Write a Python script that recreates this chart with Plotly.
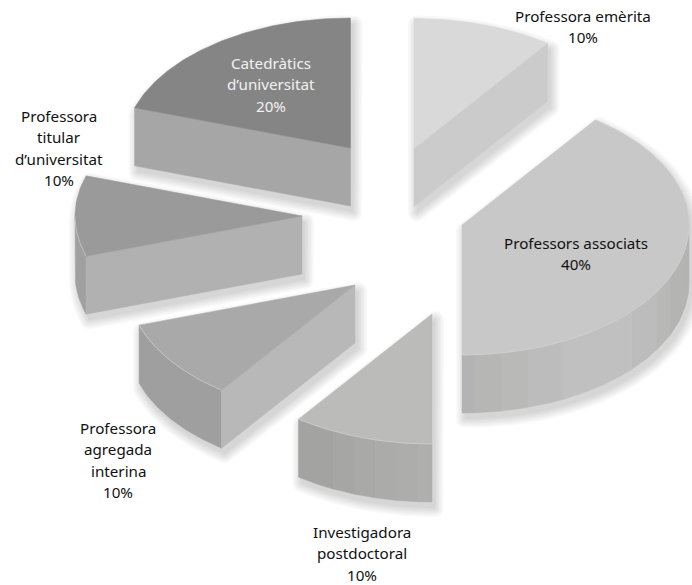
import math
import plotly.graph_objects as go

# ---- data ----
labels = ["Professora emèrita", "Professors associats", "Investigadora postdoctoral",
          "Professora agregada interina", "Professora titular d’universitat", "Catedràtics d’universitat"]
values = [10, 40, 10, 10, 10, 20]
label_lines = [
    ["Professora emèrita", "10%"],
    ["Professors associats", "40%"],
    ["Investigadora", "postdoctoral", "10%"],
    ["Professora", "agregada", "interina", "10%"],
    ["Professora", "titular", "d’universitat", "10%"],
    ["Catedràtics", "d’universitat", "20%"],
]

# ---- layout and style (exploded positions in the pixel-scaled axes) ----
W, H = 692, 585
RX, RY, DEPTH = 227, 130, 58
apex_x = [414, 462, 432, 355, 302, 350.5]
apex_y = [148.5, 225, 314, 285, 216, 148]
top_colors = ["#d9d9d9", "#c8c8c8", "#bbbbb9", "#a9a9a9", "#9a9a9a", "#858585"]
wall_colors = ["#cbcbcb", None, None, "#b8b8b8", "#b1b1b1", "#a6a6a6"]
wall_edge = ["end", None, None, "start", "start", "start"]
# rim bands: (from angle, to angle, colour) in degrees clockwise from 12 o'clock
rim_bands = [
    [],
    [(90, 95, "#b0b0af"), (95, 113.6, "#b4b4b3"), (113.6, 120.8, "#b8b8b7"), (120.8, 131.6, "#bcbcbc"),
     (131.6, 153.6, "#c0c0c0"), (153.6, 163.4, "#bcbcbc"), (163.4, 170, "#b9b9b8"),
     (170, 177, "#b6b6b5"), (177, 180, "#b3b3b3")],
    [(180, 183.5, "#afafae"), (183.5, 188.9, "#adadac"), (188.9, 194.5, "#ababaa"),
     (194.5, 199.8, "#a9a9a8"), (199.8, 205.8, "#a6a6a5"), (205.8, 216, "#a3a3a2")],
    [(216, 252, "#9f9f9f")],
    [(252, 270, "#a0a0a0")],
    [],
]
label_cx = [583, 576, 362, 118, 59, 270.5]
label_y = [16, 243, 532, 428, 116, 63]
LINE_STEP = 21.3
FONT = "Noto Sans"
FONT_SIZE = 15.2
label_colors = ["#111111"] * 5 + ["#f2f2f2"]
SHADOW_DX, SHADOW_DY = 3, 6
SHADOW_STEPS = [0, 1.5, 3, 4.5, 6, 7.5, 9]


def pt(cx, cy, deg, dz=0):
    a = math.radians(deg)
    return cx + RX * math.sin(a), cy - RY * math.cos(a) + dz


def arc(cx, cy, a0, a1, dz=0, step=1.0):
    n = max(2, int(abs(a1 - a0) / step) + 1)
    return [pt(cx, cy, a0 + (a1 - a0) * i / (n - 1), dz) for i in range(n)]


def hull(points):
    p = sorted(set(points))
    def half(seq):
        out = []
        for q in seq:
            while len(out) >= 2 and (out[-1][0] - out[-2][0]) * (q[1] - out[-2][1]) - (out[-1][1] - out[-2][1]) * (q[0] - out[-2][0]) <= 0:
                out.pop()
            out.append(q)
        return out[:-1]
    return half(p) + half(p[::-1])


def grow(points, d):
    if d == 0:
        return hull(points)
    ring = [(d * math.cos(k * math.pi / 8), d * math.sin(k * math.pi / 8)) for k in range(16)]
    return hull([(x + u, y + v) for x, y in points for u, v in ring])


fig = go.Figure()


def poly(points, fill, line=None, width=0.5):
    xs = [q[0] for q in points] + [points[0][0]]
    ys = [q[1] for q in points] + [points[0][1]]
    fig.add_trace(go.Scatter(x=xs, y=ys, mode="lines", fill="toself", fillcolor=fill,
                             line=dict(color=line or fill, width=width),
                             hoverinfo="skip", showlegend=False))


# cumulative angles from the shares
total = sum(values)
starts, ends, acc = [], [], 0
for v in values:
    starts.append(acc / total * 360)
    acc += v
    ends.append(acc / total * 360)

# soft drop shadows
for i in range(len(values)):
    cx, cy = apex_x[i], apex_y[i]
    a0, a1 = starts[i], ends[i]
    sil = [(cx, cy), (cx, cy + DEPTH)] + arc(cx, cy, a0, a1, step=3) + arc(cx, cy, a0, a1, DEPTH, step=3)
    sil = [(x + SHADOW_DX, y + SHADOW_DY) for x, y in hull(sil)]
    for d in SHADOW_STEPS:
        poly(grow(sil, d), "rgba(50,50,50,0.03)", "rgba(0,0,0,0)", 0)

# slices
for i in range(len(values)):
    cx, cy = apex_x[i], apex_y[i]
    a0, a1 = starts[i], ends[i]
    for b0, b1, col in rim_bands[i]:
        poly(arc(cx, cy, b0, b1) + arc(cx, cy, b1, b0, DEPTH), col)
    if wall_colors[i]:
        e = a0 if wall_edge[i] == "start" else a1
        p = pt(cx, cy, e)
        poly([(cx, cy), p, (p[0], p[1] + DEPTH), (cx, cy + DEPTH)], wall_colors[i])
    poly([(cx, cy)] + arc(cx, cy, a0, a1), top_colors[i])
    if rim_bands[i]:
        r0, r1 = rim_bands[i][0][0], rim_bands[i][-1][1]
        e = arc(cx, cy, r0, r1)
        fig.add_trace(go.Scatter(x=[q[0] for q in e], y=[q[1] for q in e], mode="lines",
                                 line=dict(color="#d4d4d4", width=0.6),
                                 hoverinfo="skip", showlegend=False))

annotations = []
for i, lines in enumerate(label_lines):
    for j, t in enumerate(lines):
        annotations.append(dict(x=label_cx[i], y=label_y[i] + j * LINE_STEP, text=t, showarrow=False,
                                xanchor="center", yanchor="middle", xref="x", yref="y",
                                font=dict(family=FONT, size=FONT_SIZE, color=label_colors[i])))

fig.update_layout(width=W, height=H, margin=dict(l=0, r=0, t=0, b=0), paper_bgcolor="white",
                  plot_bgcolor="white", showlegend=False, annotations=annotations,
                  xaxis=dict(range=[0, W], visible=False, fixedrange=True),
                  yaxis=dict(range=[H, 0], visible=False, fixedrange=True))
fig.write_html("out.html", config={"displayModeBar": False},
               post_script="document.body.style.margin='0';document.body.style.overflow='hidden';")
